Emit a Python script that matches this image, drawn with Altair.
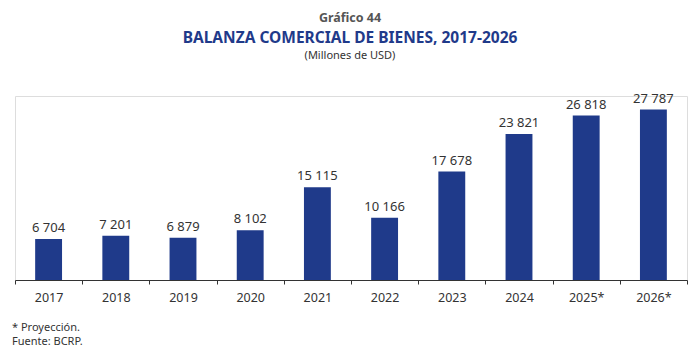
import altair as alt
import pandas as pd

years = ["2017", "2018", "2019", "2020", "2021", "2022", "2023", "2024", "2025*", "2026*"]
values = [6704, 7201, 6879, 8102, 15115, 10166, 17678, 23821, 26818, 27787]

df = pd.DataFrame({"year": years, "value": values})
df["label"] = [f"{v:,}".replace(",", " ") for v in values]

BLUE = "#1f3a8a"
W, H = 672, 184

x = alt.X("year:N", sort=years, title=None,
          scale=alt.Scale(paddingInner=0, paddingOuter=0),
          axis=alt.Axis(tickBand="extent", labelAngle=0, labelFont="Noto Sans",
                        labelFontSize=12.5, labelColor="#333333", labelPadding=7,
                        domainColor="#333333", tickColor="#333333", tickSize=4,
                        grid=False))
y = alt.Y("value:Q", scale=alt.Scale(domain=[0, 30000]), axis=None)

bars = alt.Chart(df).mark_bar(color=BLUE, width=alt.RelativeBandSize(0.4)).encode(x=x, y=y)
labels = alt.Chart(df).mark_text(baseline="bottom", dy=-4, font="Noto Sans",
                                 fontSize=13, color="#333333").encode(
    x=alt.X("year:N", sort=years), y=y, text="label:N")

def txt(s, xv, yv, size, color, weight="normal", align="center"):
    return alt.Chart(pd.DataFrame({"t": [s]})).mark_text(
        font="Noto Sans", fontSize=size, color=color, fontWeight=weight,
        align=align, baseline="middle").encode(
        x=alt.value(xv), y=alt.value(yv), text="t:N")

titles = [
    txt("Gráfico 44", 335, 18 - 96, 12.5, "#555555", "bold"),
    txt("BALANZA COMERCIAL DE BIENES, 2017-2026", 335, 38 - 96, 15.5, "#1f3a8a", "bold"),
    txt("(Millones de USD)", 335, 56 - 96, 11, "#333333"),
    txt("* Proyección.", -3, 328 - 96, 11, "#333333", align="left"),
    txt("Fuente: BCRP.", -3, 342 - 96, 11, "#333333", align="left"),
]

chart = alt.layer(bars, labels, *titles).properties(
    width=W, height=H,
    autosize=alt.AutoSizeParams(type="none"),
    padding={"left": 15, "top": 96, "right": 13, "bottom": 76},
).configure_view(stroke=None).configure(background="white")

chart.save("out.html", embed_options={"renderer": "svg", "actions": False})
